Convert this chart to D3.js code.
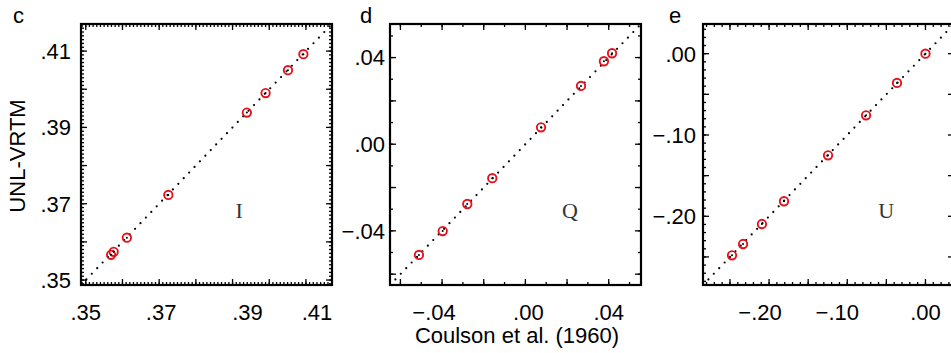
<!DOCTYPE html>
<html>
<head>
<meta charset="utf-8">
<script src="https://cdn.jsdelivr.net/npm/d3@7"></script>
<style>
  html, body { margin: 0; padding: 0; background: #fff; }
  svg { display: block; }
  .tick-label, .axis-title, .panel-letter { font-family: "Liberation Sans", Arial, Helvetica, sans-serif; font-size: 22px; fill: #000; }
  .component { font-family: "Liberation Serif", "Times New Roman", serif; font-size: 22px; fill: #333; }
</style>
</head>
<body>
<svg id="chart" width="951" height="353"></svg>
<script>
// Coulson et al. (1960) vs UNL-VRTM, one pair of arrays per Stokes component
const panelLetters = ["c", "d", "e"];
const components = ["I", "Q", "U"];

const coulsonI = [0.3569, 0.3576, 0.3612, 0.3725, 0.3939, 0.3990, 0.4051, 0.4093];
const vrtmI = [0.3566, 0.3574, 0.3611, 0.3723, 0.3939, 0.3990, 0.4050, 0.4092];

const coulsonQ = [-0.0511, -0.0397, -0.0279, -0.0159, 0.0075, 0.0267, 0.0377, 0.0416];
const vrtmQ = [-0.0511, -0.0401, -0.0276, -0.0157, 0.0078, 0.0269, 0.0383, 0.0420];

const coulsonU = [-0.2474, -0.2333, -0.2091, -0.1809, -0.1246, -0.0760, -0.0364, 0.0000];
const vrtmU = [-0.2480, -0.2341, -0.2095, -0.1815, -0.1250, -0.0758, -0.0360, 0.0000];

const ticksI = [0.35, 0.37, 0.39, 0.41];
const ticksQ = [-0.04, 0.00, 0.04];
const ticksU = [-0.20, -0.10, 0.00];

// layout per panel; xShift nudges bottom labels the way the original figure has them
const panels = [
  { letter: panelLetters[0], comp: components[0], xs: coulsonI, ys: vrtmI, ticks: ticksI,
    domain: [0.3487, 0.4171], major: 0.01, minor: 0.001, left: 81, labGap: 10, compX: 0.63,
    letterX: 13, xShift: [0, 2, 15, 11] },
  { letter: panelLetters[1], comp: components[1], xs: coulsonQ, ys: vrtmQ, ticks: ticksQ,
    domain: [-0.065, 0.0555], major: 0.02, minor: 0.01, left: 390, labGap: 5, compX: 0.717,
    letterX: 360, xShift: [-8, 3, 0] },
  { letter: panelLetters[2], comp: components[2], xs: coulsonU, ys: vrtmU, ticks: ticksU,
    domain: [-0.2845, 0.0365], major: 0.05, minor: 0.01, left: 703, labGap: 7, compX: 0.73,
    letterX: 669, xShift: [-9, -10, 0] },
];

const plotTop = 24, W = 251, H = 261;
const svg = d3.select("#chart");

const fmt = (v) => {
  const s = d3.format(".2f")(Math.abs(v)).replace(/^0/, "");
  return v < -1e-9 ? "\u2212" + s : s;
};

function tickSet(domain, step) {
  const start = Math.ceil(domain[0] / step - 1e-6);
  const end = Math.floor(domain[1] / step + 1e-6);
  return d3.range(start, end + 1).map((k) => k * step);
}

panels.forEach((p) => {
  const x = d3.scaleLinear().domain(p.domain).range([p.left, p.left + W]);
  const y = d3.scaleLinear().domain(p.domain).range([plotTop + H, plotTop]);
  const g = svg.append("g");
  const tg = g.append("g").attr("stroke", "#000").attr("stroke-width", 1.3);

  // inward ticks on all four sides
  const drawTicks = (vals, len) => {
    vals.forEach((v) => {
      const px = x(v), py = y(v);
      tg.append("line").attr("x1", px).attr("x2", px).attr("y1", plotTop + H).attr("y2", plotTop + H - len);
      tg.append("line").attr("x1", px).attr("x2", px).attr("y1", plotTop).attr("y2", plotTop + len);
      tg.append("line").attr("y1", py).attr("y2", py).attr("x1", p.left).attr("x2", p.left + len);
      tg.append("line").attr("y1", py).attr("y2", py).attr("x1", p.left + W).attr("x2", p.left + W - len);
    });
  };
  drawTicks(tickSet(p.domain, p.minor), 3);
  drawTicks(tickSet(p.domain, p.major), 6);

  g.append("rect")
    .attr("x", p.left).attr("y", plotTop).attr("width", W).attr("height", H)
    .attr("fill", "none").attr("stroke", "#000").attr("stroke-width", 2.2);

  // 1:1 dotted line
  g.append("line")
    .attr("x1", x(p.domain[0])).attr("y1", y(p.domain[0]))
    .attr("x2", x(p.domain[1])).attr("y2", y(p.domain[1]))
    .attr("stroke", "#000").attr("stroke-width", 2.2)
    .attr("stroke-linecap", "round").attr("stroke-dasharray", "0,7.8");

  const pts = p.xs.map((v, i) => ({ cx: v, cy: p.ys[i] }));
  g.selectAll(".pt").data(pts).join("circle").attr("class", "pt")
    .attr("cx", (d) => x(d.cx)).attr("cy", (d) => y(d.cy)).attr("r", 4.2)
    .attr("fill", "none").attr("stroke", "#e8101a").attr("stroke-width", 1.9);
  g.selectAll(".ctr").data(pts).join("circle").attr("class", "ctr")
    .attr("cx", (d) => x(d.cx)).attr("cy", (d) => y(d.cy)).attr("r", 1)
    .attr("fill", "#000");

  // tick labels
  p.ticks.forEach((v, i) => {
    g.append("text").attr("class", "tick-label")
      .attr("x", p.left - p.labGap).attr("y", y(v)).attr("dy", "0.36em")
      .attr("text-anchor", "end").text(fmt(v));
    g.append("text").attr("class", "tick-label")
      .attr("x", x(v) + p.xShift[i]).attr("y", plotTop + H + 35)
      .attr("text-anchor", "middle").text(fmt(v));
  });

  g.append("text").attr("class", "panel-letter")
    .attr("x", p.letterX).attr("y", 23).text(p.letter);
  g.append("text").attr("class", "component")
    .attr("x", p.left + p.compX * W).attr("y", 218)
    .attr("text-anchor", "middle").text(p.comp);
});

svg.append("text").attr("class", "axis-title")
  .attr("transform", "translate(25,156) rotate(-90)")
  .attr("text-anchor", "middle").text("UNL-VRTM");

svg.append("text").attr("class", "axis-title")
  .attr("x", 517).attr("y", 343).attr("text-anchor", "middle")
  .text("Coulson et al. (1960)");
</script>
</body>
</html>
